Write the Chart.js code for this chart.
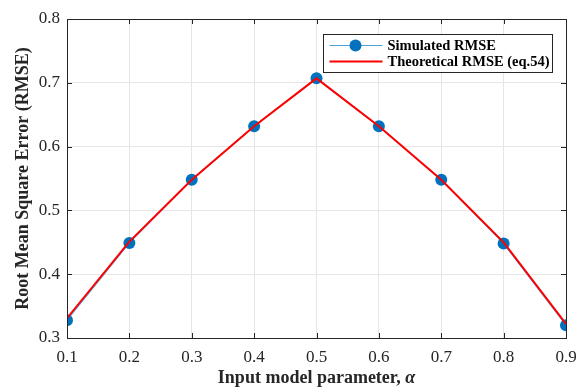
<!DOCTYPE html>
<html lang="en">
<head>
  <meta charset="UTF-8" />
  <title>RMSE vs alpha</title>
  <script src="https://cdn.jsdelivr.net/npm/chart.js"></script>
  <style>
    html, body { margin: 0; padding: 0; background: #fff; }
    #wrap { width: 579px; height: 387px; }
  </style>
</head>
<body>
  <div id="wrap"><canvas id="rmseChart" width="579" height="387"></canvas></div>

  <script>
    const alphas = [0.1, 0.2, 0.3, 0.4, 0.5, 0.6, 0.7, 0.8, 0.9];
    const simulatedRmse = [0.328, 0.449, 0.548, 0.632, 0.707, 0.632, 0.548, 0.448, 0.320];
    const theoreticalRmse = [0.331, 0.451, 0.548, 0.632, 0.707, 0.632, 0.548, 0.450, 0.322];
    const seriesNames = ['Simulated RMSE', 'Theoretical RMSE (eq.54)'];

    const serif = '"Liberation Serif", "Times New Roman", serif';

    // box, inner ticks, axis titles and legend drawn like a MATLAB figure
    const matlabLook = {
      id: 'matlabLook',
      afterDraw(chart) {
        const { ctx, chartArea: a, scales } = chart;
        ctx.save();
        ctx.strokeStyle = '#262626';
        ctx.lineWidth = 1;
        ctx.beginPath();
        scales.x.ticks.forEach(t => {
          const px = Math.round(scales.x.getPixelForValue(t.value)) + 0.5;
          ctx.moveTo(px, a.bottom); ctx.lineTo(px, a.bottom - 5);
          ctx.moveTo(px, a.top); ctx.lineTo(px, a.top + 5);
        });
        scales.y.ticks.forEach(t => {
          const py = Math.round(scales.y.getPixelForValue(t.value)) + 0.5;
          ctx.moveTo(a.left, py); ctx.lineTo(a.left + 5, py);
          ctx.moveTo(a.right, py); ctx.lineTo(a.right - 5, py);
        });
        ctx.stroke();
        ctx.strokeRect(Math.round(a.left) + 0.5, Math.round(a.top) + 0.5,
          Math.round(a.right - a.left), Math.round(a.bottom - a.top));

        // axis titles
        ctx.fillStyle = '#262626';
        ctx.textBaseline = 'middle';
        const part1 = 'Input model parameter, ';
        ctx.font = 'bold 18px ' + serif;
        const w1 = ctx.measureText(part1).width;
        ctx.font = 'italic bold 18px ' + serif;
        const w2 = ctx.measureText('\u03b1').width;
        const cx = (a.left + a.right) / 2;
        let x0 = cx - (w1 + w2) / 2;
        ctx.textAlign = 'left';
        ctx.font = 'bold 18px ' + serif;
        ctx.fillText(part1, x0, 378);
        ctx.font = 'italic bold 18px ' + serif;
        ctx.fillText('\u03b1', x0 + w1, 378);

        ctx.save();
        ctx.translate(23, (a.top + a.bottom) / 2);
        ctx.rotate(-Math.PI / 2);
        ctx.textAlign = 'center';
        ctx.font = 'bold 18px ' + serif;
        ctx.fillText('Root Mean Square Error (RMSE)', 0, 0);
        ctx.restore();

        // legend
        const lx = 323.5, ly = 34.5, lw = 229, lh = 38;
        ctx.fillStyle = '#fff';
        ctx.fillRect(lx, ly, lw, lh);
        ctx.strokeStyle = '#262626';
        ctx.lineWidth = 1;
        ctx.strokeRect(lx, ly, lw, lh);
        const ds = chart.data.datasets;
        const rows = [ly + 11, ly + 27];
        ds.forEach((d, i) => {
          const y = rows[i];
          ctx.strokeStyle = d.borderColor;
          ctx.lineWidth = d.borderWidth;
          ctx.beginPath();
          ctx.moveTo(lx + 6, y); ctx.lineTo(lx + 59, y);
          ctx.stroke();
          if (d.pointRadius > 0) {
            ctx.fillStyle = d.pointBackgroundColor;
            ctx.beginPath();
            ctx.arc(lx + 32, y, d.pointRadius, 0, Math.PI * 2);
            ctx.fill();
          }
          ctx.fillStyle = '#000';
          ctx.font = 'bold 14.5px ' + serif;
          ctx.textAlign = 'left';
          ctx.fillText(d.label, lx + 64, y + 1);
        });
        ctx.restore();
      }
    };

    const ctx = document.getElementById('rmseChart').getContext('2d');
    new Chart(ctx, {
      type: 'line',
      data: {
        datasets: [
          {
            label: seriesNames[0],
            data: alphas.map((a, i) => ({ x: a, y: simulatedRmse[i] })),
            borderColor: '#4DA3DB',
            borderWidth: 1.2,
            pointRadius: 6,
            pointBackgroundColor: '#0072BD',
            pointBorderColor: '#0072BD',
            pointBorderWidth: 0,
            tension: 0,
            order: 2
          },
          {
            label: seriesNames[1],
            data: alphas.map((a, i) => ({ x: a, y: theoreticalRmse[i] })),
            borderColor: '#FF0000',
            borderWidth: 2,
            pointRadius: 0,
            tension: 0,
            order: 1
          }
        ]
      },
      options: {
        responsive: false,
        animation: false,
        devicePixelRatio: 1,
        layout: { padding: { top: 19, right: 13, left: 0, bottom: 0 } },
        plugins: { legend: { display: false }, tooltip: { enabled: false } },
        scales: {
          x: {
            type: 'linear',
            min: 0.1, max: 0.9,
            afterFit: s => { s.height = 49; s.paddingLeft = 0; s.paddingRight = 0; },
            ticks: {
              stepSize: 0.1,
              padding: 9,
              color: '#262626',
              font: { family: serif, size: 17 },
              maxRotation: 0,
              callback: v => v.toFixed(1)
            },
            grid: { color: '#e6e6e6', tickLength: 0 },
            border: { display: false }
          },
          y: {
            min: 0.3, max: 0.8,
            afterFit: s => { s.width = 67; s.paddingTop = 0; s.paddingBottom = 0; },
            ticks: {
              stepSize: 0.1,
              padding: 7,
              color: '#262626',
              font: { family: serif, size: 17 },
              callback: v => v.toFixed(1)
            },
            grid: { color: '#e6e6e6', tickLength: 0 },
            border: { display: false }
          }
        }
      },
      plugins: [matlabLook]
    });
  </script>
</body>
</html>
